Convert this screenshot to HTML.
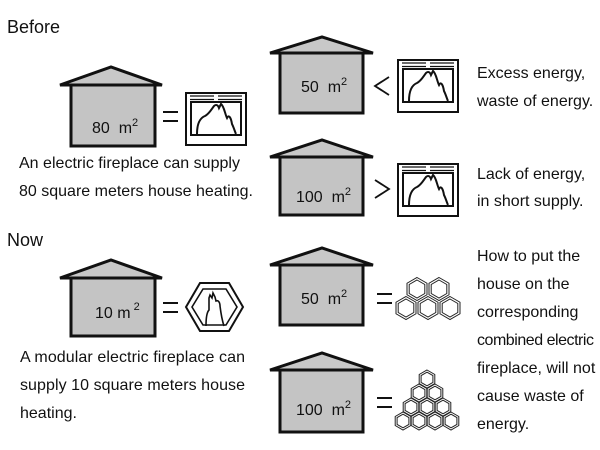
<!DOCTYPE html>
<html><head><meta charset="utf-8"><style>
html,body{margin:0;padding:0;background:#fff;}
svg{display:block;}
text{font-family:"Liberation Sans",Arial,sans-serif;fill:#111;}
</style></head><body>
<svg width="600" height="450" viewBox="0 0 600 450" xmlns="http://www.w3.org/2000/svg">
<defs>
<g id="fp">
  <rect x="1" y="1" width="60" height="52" fill="#fff" stroke="#111" stroke-width="2"/>
  <line x1="5" y1="4" x2="29" y2="4" stroke="#111" stroke-width="1.2"/>
  <line x1="33" y1="4" x2="57" y2="4" stroke="#111" stroke-width="1.2"/>
  <line x1="5" y1="7.5" x2="29" y2="7.5" stroke="#111" stroke-width="1.2"/>
  <line x1="33" y1="7.5" x2="57" y2="7.5" stroke="#111" stroke-width="1.2"/>
  <rect x="6" y="10" width="50" height="33" fill="#fff" stroke="#111" stroke-width="2"/>
  <path d="M12 42 C12 32 15 26 20 24 C24 22 26 18 29 14 C31 12 33 13 34 16 L36 12 C39 14 40 22 42 26 C44 22 46 26 47 32 C49 36 50 40 51 42" fill="none" stroke="#111" stroke-width="2"/>
</g>
<g id="hx">
  <polygon points="0,-11.5 10,-5.75 10,5.75 0,11.5 -10,5.75 -10,-5.75" fill="#fff" stroke="#222" stroke-width="1"/>
  <polygon points="0,-9 7.8,-4.5 7.8,4.5 0,9 -7.8,4.5 -7.8,-4.5" fill="none" stroke="#222" stroke-width="1"/>
</g>
<g id="hs">
  <polygon points="0,-9 7.8,-4.5 7.8,4.5 0,9 -7.8,4.5 -7.8,-4.5" fill="#fff" stroke="#222" stroke-width="1"/>
  <polygon points="0,-6.8 5.9,-3.4 5.9,3.4 0,6.8 -5.9,3.4 -5.9,-3.4" fill="none" stroke="#222" stroke-width="1"/>
</g>
</defs>

<text x="7" y="33" font-size="18">Before</text>
<text x="7" y="246" font-size="18">Now</text>

<!-- House 80 -->
<polygon points="60,85 111,67 162,85" fill="#c8c8c8" stroke="#111" stroke-width="3"/>
<rect x="71" y="85" width="84" height="61" fill="#c4c4c4" stroke="#111" stroke-width="3"/>
<text x="92" y="133" font-size="16">80&#160;&#160;m<tspan font-size="11" dy="-7">2</tspan></text>
<line x1="163" y1="112" x2="178" y2="112" stroke="#111" stroke-width="2"/>
<line x1="163" y1="121" x2="178" y2="121" stroke="#111" stroke-width="2"/>
<use href="#fp" x="185" y="92"/>

<!-- House 50 before -->
<polygon points="270,53 322,37 373,53" fill="#c8c8c8" stroke="#111" stroke-width="3"/>
<rect x="280" y="53" width="83" height="60" fill="#c4c4c4" stroke="#111" stroke-width="3"/>
<text x="301" y="92" font-size="16">50&#160;&#160;m<tspan font-size="11" dy="-7">2</tspan></text>
<polyline points="389,77 375,86 389,95" fill="none" stroke="#111" stroke-width="1.8"/>
<use href="#fp" x="397" y="59"/>
<text x="477" y="78" font-size="16">Excess energy,</text>
<text x="477" y="106" font-size="16">waste of energy.</text>

<!-- House 100 before -->
<polygon points="270,157 322,140 373,157" fill="#c8c8c8" stroke="#111" stroke-width="3"/>
<rect x="280" y="157" width="83" height="58" fill="#c4c4c4" stroke="#111" stroke-width="3"/>
<text x="296" y="202" font-size="16">100&#160;&#160;m<tspan font-size="11" dy="-7">2</tspan></text>
<polyline points="375,180 389,189 375,198" fill="none" stroke="#111" stroke-width="1.8"/>
<use href="#fp" x="397" y="163"/>
<text x="477" y="179" font-size="16">Lack of energy,</text>
<text x="477" y="206" font-size="16">in short supply.</text>

<text x="19" y="168" font-size="16" textLength="221">An electric fireplace can supply</text>
<text x="19" y="196" font-size="16" textLength="234">80 square meters house heating.</text>

<!-- House 10 -->
<polygon points="60,278 111,260 162,278" fill="#c8c8c8" stroke="#111" stroke-width="3"/>
<rect x="71" y="278" width="84" height="58" fill="#c4c4c4" stroke="#111" stroke-width="3"/>
<text x="95" y="318" font-size="16">10 m<tspan font-size="11" dy="-8">&#160;2</tspan></text>
<line x1="163" y1="303" x2="178" y2="303" stroke="#111" stroke-width="2"/>
<line x1="163" y1="312" x2="178" y2="312" stroke="#111" stroke-width="2"/>
<polygon points="186,307 200,283 229,283 243,307 229,331 200,331" fill="#fff" stroke="#111" stroke-width="2"/>
<polygon points="192,307 203,289 226,289 237,307 226,325 203,325" fill="none" stroke="#111" stroke-width="1.6"/>
<path d="M206 326 C206 318 207 312 209 310 L209 298 L210 295 L212 298 L213 293 L215 297 L216 301 C218 300 220 302 220 306 C221 314 222 320 224 326" fill="none" stroke="#111" stroke-width="1.6"/>

<text x="20" y="362" font-size="16" textLength="225">A modular electric fireplace can</text>
<text x="20" y="390" font-size="16" textLength="225">supply 10 square meters house</text>
<text x="20" y="418" font-size="16">heating.</text>

<!-- House 50 now -->
<polygon points="270,265 322,248 373,265" fill="#c8c8c8" stroke="#111" stroke-width="3"/>
<rect x="280" y="265" width="83" height="60" fill="#c4c4c4" stroke="#111" stroke-width="3"/>
<text x="301" y="304" font-size="16">50&#160;&#160;m<tspan font-size="11" dy="-7">2</tspan></text>
<line x1="377" y1="294" x2="392" y2="294" stroke="#111" stroke-width="2"/>
<line x1="377" y1="303" x2="392" y2="303" stroke="#111" stroke-width="2"/>
<use href="#hx" x="417" y="289"/>
<use href="#hx" x="439" y="289"/>
<use href="#hx" x="406" y="308"/>
<use href="#hx" x="428" y="308"/>
<use href="#hx" x="450" y="308"/>

<!-- House 100 now -->
<polygon points="270,370 322,353 373,370" fill="#c8c8c8" stroke="#111" stroke-width="3"/>
<rect x="280" y="370" width="83" height="62" fill="#c4c4c4" stroke="#111" stroke-width="3"/>
<text x="296" y="415" font-size="16">100&#160;&#160;m<tspan font-size="11" dy="-7">2</tspan></text>
<line x1="377" y1="398" x2="392" y2="398" stroke="#111" stroke-width="2"/>
<line x1="377" y1="407" x2="392" y2="407" stroke="#111" stroke-width="2"/>
<use href="#hs" x="427" y="379"/>
<use href="#hs" x="419" y="393"/>
<use href="#hs" x="435" y="393"/>
<use href="#hs" x="411" y="407"/>
<use href="#hs" x="427" y="407"/>
<use href="#hs" x="443" y="407"/>
<use href="#hs" x="403" y="421"/>
<use href="#hs" x="419" y="421"/>
<use href="#hs" x="435" y="421"/>
<use href="#hs" x="451" y="421"/>

<text x="477" y="261" font-size="16">How to put the</text>
<text x="477" y="289" font-size="16">house on the</text>
<text x="477" y="317" font-size="16">corresponding</text>
<text x="477" y="345" font-size="16" textLength="117">combined electric</text>
<text x="477" y="373" font-size="16">fireplace, will not</text>
<text x="477" y="401" font-size="16">cause waste of</text>
<text x="477" y="429" font-size="16">energy.</text>
</svg>
</body></html>
